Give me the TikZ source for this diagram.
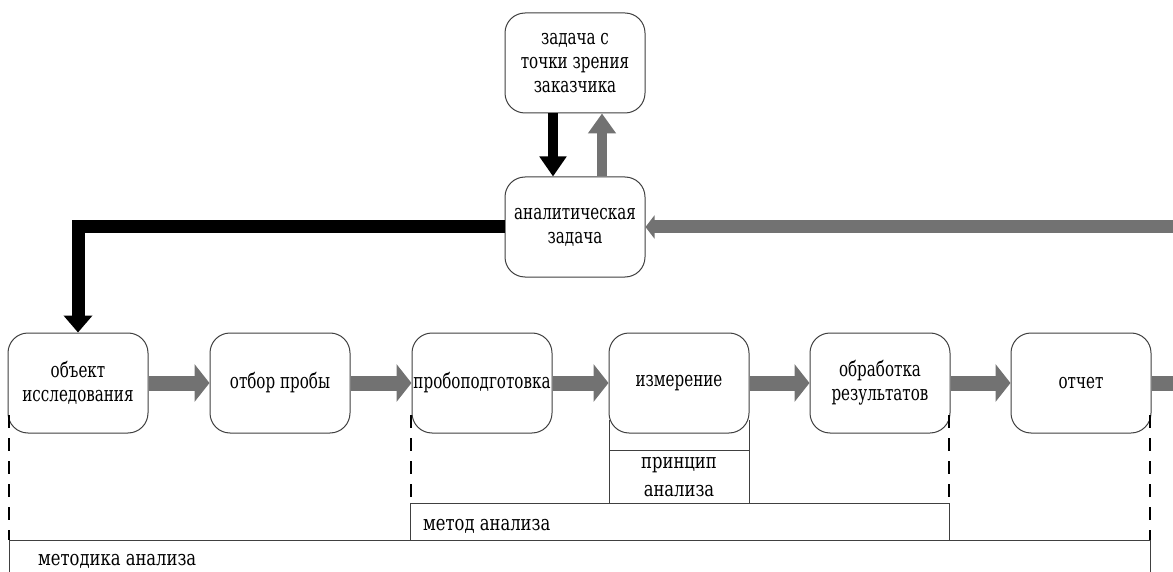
\documentclass[tikz,border=0pt]{standalone}
\usepackage{fontspec}
\setmainfont{DejaVu Serif}
\newfontfamily\boxfont{DejaVu Serif}[FakeStretch=0.72]
\newfontfamily\labfont{DejaVu Serif}[FakeStretch=0.78]
\usetikzlibrary{arrows.meta,calc}
\definecolor{arrgray}{HTML}{727272}
\definecolor{boxline}{HTML}{404040}
\begin{document}
\begin{tikzpicture}[x=1pt,y=-1pt,
  proc/.style={draw=boxline, line width=1pt, rounded corners=20pt,
    minimum width=140pt, minimum height=100pt, inner sep=0pt, align=center,
    fill=white, font=\boxfont\fontsize{21}{24}\selectfont},
  boxarrow/.style={draw=arrgray, line width=15pt,
    -{Triangle[width=37pt,length=15pt]}},
  longgray/.style={draw=arrgray, line width=13pt,
    -{Triangle[width=23pt,length=9pt]}},
  longblack/.style={draw=black, line width=13pt, line join=miter,
    -{Triangle[width=28pt,length=17pt]}},
  upgray/.style={draw=arrgray, line width=10pt,
    -{Triangle[width=27pt,length=20pt]}},
  downblack/.style={draw=black, line width=10pt,
    -{Triangle[width=26pt,length=20pt]}},
  dashln/.style={draw=black, line width=1.6pt, dash pattern=on 13pt off 10pt},
  frameln/.style={draw=boxline, line width=1pt},
  lab/.style={font=\labfont\fontsize{21}{24}\selectfont, inner sep=0pt}
]
\useasboundingbox[fill=white] (0,0) rectangle (1173,572);

% top part
\node[proc] (t) at (575,63) {задача с\\точки зрения\\заказчика};
\node[proc] (a) at (575,227) {аналитическая\\задача};

% bottom row
\node[proc] (o1) at (78,383) {объект\\исследования};
\node[proc] (o2) at (280,383) {отбор пробы};
\node[proc] (o3) at (482,383) {пробоподготовка};
\node[proc] (o4) at (679,383) {измерение};
\node[proc] (o5) at (880,383) {обработка\\результатов};
\node[proc] (o6) at (1081,383) {отчет};

% arrows between top boxes
\draw[downblack] ([xshift=-22pt]t.south) -- ([xshift=-22pt]a.north);
\draw[upgray] ([xshift=27pt]a.north) -- ([xshift=27pt]t.south);

% long connectors
\coordinate (re) at (1173,227);
\draw[longgray] (re) -- (a.east);
\draw[longblack] (a.west) -| (o1.north);

% box-to-box arrows
\draw[boxarrow] (o1.east) -- (o2.west);
\draw[boxarrow] (o2.east) -- (o3.west);
\draw[boxarrow] (o3.east) -- (o4.west);
\draw[boxarrow] (o4.east) -- (o5.west);
\draw[boxarrow] (o5.east) -- (o6.west);
\coordinate (ee) at (1173,383);
\draw[draw=arrgray, line width=15pt] (o6.east) -- (ee);

% dashed lines
\draw[dashln] (9,415) -- (9,540);
\draw[dashln] (411,415) -- (411,503);
\draw[dashln] (949,415) -- (949,503);
\draw[dashln] (1150,415) -- (1150,540);

% principle box
\draw[frameln] (609,420) -- (609,503);
\draw[frameln] (749,420) -- (749,503);
\draw[frameln] (609,450) -- (749,450);
\node[lab, align=center, font=\labfont\fontsize{21}{28}\selectfont] (pr) at (679,477) {принцип\\анализа};

% method frame
\draw[frameln] (410,540) -- (410,503) -- (949,503) -- (949,540);
\node[lab, anchor=base west] (mt) at (423,530) {метод анализа};

% methodology frame
\draw[frameln] (9,572) -- (9,540) -- (1150,540) -- (1150,572);
\node[lab, anchor=base west] (mk) at (38,565) {методика анализа};
\end{tikzpicture}
\end{document}
